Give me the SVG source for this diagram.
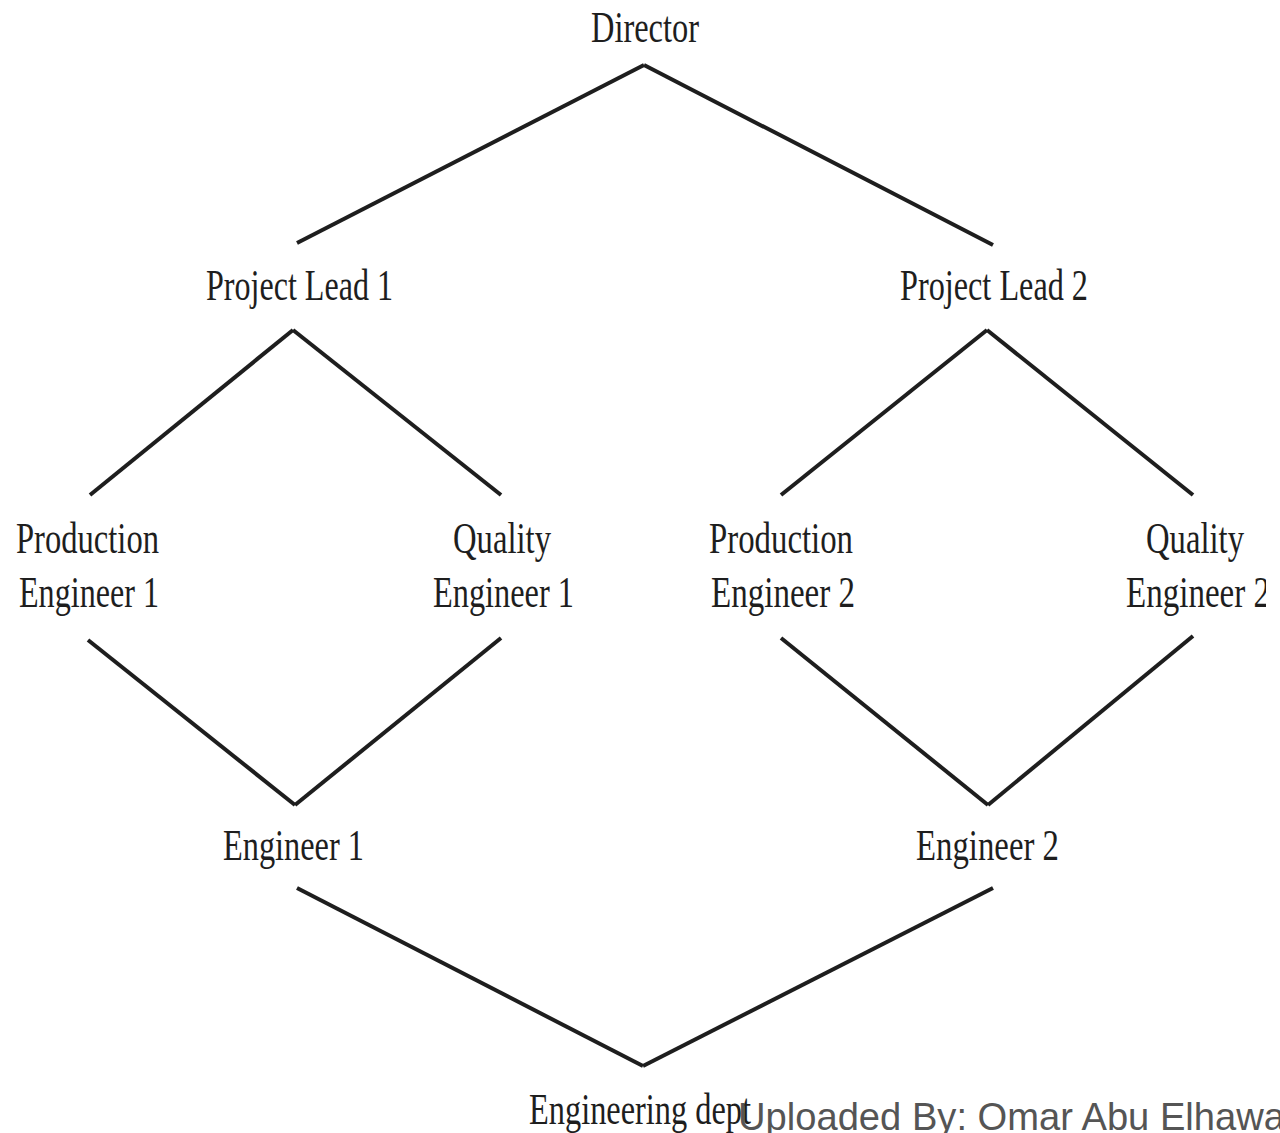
<svg xmlns="http://www.w3.org/2000/svg" width="1280" height="1133" viewBox="0 0 1280 1133">
<style>
.t{font-family:"Liberation Serif","Times New Roman",serif;font-size:45px;fill:#1e1e1e}
.c line{stroke:#1e1e1e;stroke-width:4;stroke-linecap:butt}
.w{font-family:"Liberation Sans",Arial,sans-serif;font-size:39px;fill:#555555}
</style>
<defs>
<clipPath id="cut"><rect x="0" y="0" width="1266" height="1133"/></clipPath>
</defs>
<rect width="1280" height="1133" fill="#ffffff"/>
<g id="connectors" class="c">
<line x1="297" y1="243" x2="644" y2="65"/>
<line x1="644" y1="65" x2="993" y2="245"/>
<line x1="90" y1="495" x2="293" y2="330"/>
<line x1="293" y1="330" x2="501" y2="495"/>
<line x1="781" y1="495" x2="987" y2="330"/>
<line x1="987" y1="330" x2="1193" y2="495"/>
<line x1="88" y1="640" x2="295" y2="805"/>
<line x1="295" y1="805" x2="501" y2="638"/>
<line x1="781" y1="638" x2="988" y2="805"/>
<line x1="988" y1="805" x2="1193" y2="636"/>
<line x1="297" y1="888" x2="643" y2="1066"/>
<line x1="643" y1="1066" x2="993" y2="888"/>
</g>
<g id="director"><text class="t" x="591" y="42" textLength="108" lengthAdjust="spacingAndGlyphs">Director</text></g>
<g id="pl1"><text class="t" x="206" y="300" textLength="187" lengthAdjust="spacingAndGlyphs">Project Lead 1</text></g>
<g id="pl2"><text class="t" x="900" y="300" textLength="188" lengthAdjust="spacingAndGlyphs">Project Lead 2</text></g>
<g id="pe1"><text class="t" x="16" y="553" textLength="143" lengthAdjust="spacingAndGlyphs">Production</text><text class="t" x="19" y="607" textLength="140" lengthAdjust="spacingAndGlyphs">Engineer 1</text></g>
<g id="qe1"><text class="t" x="453" y="553" textLength="98" lengthAdjust="spacingAndGlyphs">Quality</text><text class="t" x="433" y="607" textLength="141" lengthAdjust="spacingAndGlyphs">Engineer 1</text></g>
<g id="pe2"><text class="t" x="709" y="553" textLength="144" lengthAdjust="spacingAndGlyphs">Production</text><text class="t" x="711" y="607" textLength="144" lengthAdjust="spacingAndGlyphs">Engineer 2</text></g>
<g id="qe2" clip-path="url(#cut)"><text class="t" x="1146" y="553" textLength="98" lengthAdjust="spacingAndGlyphs">Quality</text><text class="t" x="1126" y="607" textLength="144" lengthAdjust="spacingAndGlyphs">Engineer 2</text></g>
<g id="e1"><text class="t" x="223" y="860" textLength="141" lengthAdjust="spacingAndGlyphs">Engineer 1</text></g>
<g id="e2"><text class="t" x="916" y="860" textLength="143" lengthAdjust="spacingAndGlyphs">Engineer 2</text></g>
<g id="dept"><text class="t" x="529" y="1124" textLength="222" lengthAdjust="spacingAndGlyphs">Engineering dept</text></g>
<g id="watermark"><text class="w" x="738" y="1130" textLength="547" lengthAdjust="spacingAndGlyphs">Uploaded By: Omar Abu Elhawa</text></g>
</svg>
